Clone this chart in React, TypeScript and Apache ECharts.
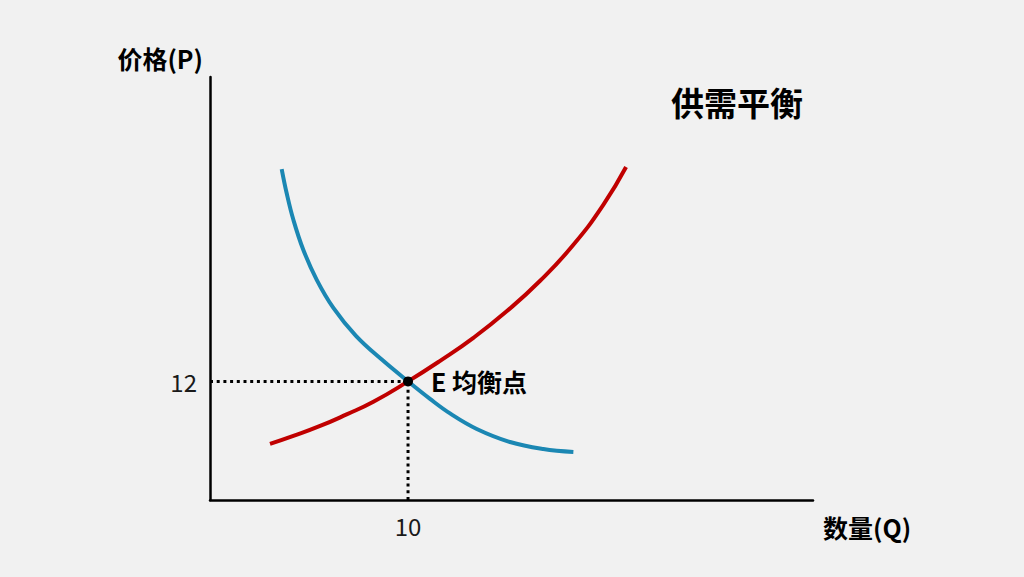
import React, { useEffect, useRef } from "react";
import * as echarts from "echarts";

// Demand curve (Q, P)
const demandQ = [3.62, 3.87, 4.21, 4.71, 5.39, 6.23, 7.37, 8.69, 10, 11.11, 12.12, 13.47, 15.15, 16.83, 18.35];
const demandP = [33.49, 31.06, 28.35, 25.32, 22.28, 19.44, 16.61, 14.18, 12, 10.23, 8.76, 7.19, 5.87, 5.16, 4.86];
// Supply curve
const supplyQ = [3.03, 4.21, 5.56, 6.9, 8.25, 10, 11.62, 13.3, 14.98, 16.67, 18.35, 19.86, 21.01];
const supplyP = [5.67, 6.48, 7.49, 8.66, 9.94, 12, 14.08, 16.41, 19.09, 22.18, 25.82, 29.87, 33.69];
// Equilibrium
const eqQ = 10;
const eqP = 12;
const xTicks = [10];
const yTicks = [12];

const FONT = "'Noto Sans CJK SC', 'Noto Sans', sans-serif";

export default function App() {
  const ref = useRef<HTMLDivElement>(null);
  useEffect(() => {
    if (!ref.current) return;
    const chart = echarts.init(ref.current, undefined, { renderer: "svg" });
    const demand = demandQ.map((q, i) => [q, demandP[i]]);
    const supply = supplyQ.map((q, i) => [q, supplyP[i]]);
    const dotted = { color: "#000", width: 3, type: [3, 3.7] };
    chart.setOption({
      animation: false,
      backgroundColor: "#f1f1f1",
      textStyle: { fontFamily: FONT },
      title: {
        text: "供需平衡",
        left: 666,
        top: 80,
        textStyle: { fontSize: 33, fontWeight: "bold", color: "#000", fontFamily: FONT },
      },
      grid: { left: 210, right: 211, top: 77, bottom: 77 },
      xAxis: {
        type: "value",
        min: 0,
        max: 30.45,
        name: "数量(Q)",
        nameLocation: "end",
        nameGap: 10,
        nameTextStyle: {
          fontSize: 25,
          fontWeight: "bold",
          color: "#000",
          verticalAlign: "top",
          align: "left",
          padding: [14, 0, 0, 0],
          fontFamily: FONT,
        },
        splitLine: { show: false },
        axisLine: { show: true, lineStyle: { color: "#000", width: 2.5 } },
        axisTick: { show: false },
        axisLabel: {
          customValues: xTicks,
          fontSize: 24,
          color: "#1a1a1a",
          margin: 13,
          fontFamily: FONT,
        },
      },
      yAxis: {
        type: "value",
        min: 0,
        max: 42.8,
        name: "价格(P)",
        nameLocation: "end",
        nameGap: 19,
        nameTextStyle: {
          fontSize: 25,
          fontWeight: "bold",
          color: "#000",
          align: "right",
          verticalAlign: "middle",
          padding: [0, 7, 0, 0],
          fontFamily: FONT,
        },
        splitLine: { show: false },
        axisLine: { show: true, lineStyle: { color: "#000", width: 2.5 } },
        axisTick: { show: false },
        axisLabel: {
          customValues: yTicks,
          fontSize: 24,
          color: "#1a1a1a",
          margin: 13,
          fontFamily: FONT,
        },
      },
      series: [
        {
          type: "line",
          data: [[0, eqP], [eqQ, eqP]],
          symbol: "none",
          lineStyle: dotted,
          z: 1,
        },
        {
          type: "line",
          data: [[eqQ, 0], [eqQ, eqP]],
          symbol: "none",
          lineStyle: dotted,
          z: 1,
        },
        {
          type: "line",
          data: demand,
          smooth: 0.4,
          symbol: "none",
          lineStyle: { color: "#1b87b3", width: 4 },
          z: 2,
        },
        {
          type: "line",
          data: supply,
          smooth: 0.5,
          symbol: "none",
          lineStyle: { color: "#c00000", width: 4 },
          z: 3,
        },
        {
          type: "scatter",
          data: [[eqQ, eqP]],
          symbolSize: 10,
          itemStyle: { color: "#000", opacity: 1 },
          z: 5,
          label: {
            show: true,
            position: "right",
            distance: 18,
            formatter: "E 均衡点",
            fontSize: 25,
            fontWeight: "bold",
            color: "#000",
            opacity: 1,
            fontFamily: FONT,
          },
        },
      ],
    });
    return () => chart.dispose();
  }, []);
  return (
    <div
      ref={ref}
      style={{ position: "fixed", left: 0, top: 0, width: 1024, height: 577 }}
    />
  );
}
